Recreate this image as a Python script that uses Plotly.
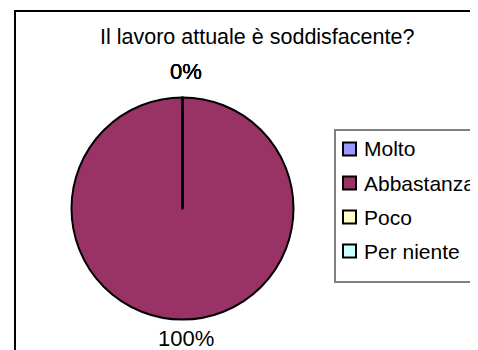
import plotly.graph_objects as go

# ---- data ----
categories = ["Molto", "Abbastanza", "Poco", "Per niente"]
values = [0, 100, 0, 0]
colors = ["#9999FF", "#993366", "#FFFFCC", "#CCFFFF"]
title_text = "Il lavoro attuale è soddisfacente?"

W, H = 478, 350
OFF = 8  # page body margin offset compensation
FONT = "Liberation Sans, Arial, sans-serif"

def px(x):
    return (x - OFF) / W

def py(y):
    return 1 - (y - OFF) / H

# pie geometry (pixels in the page)
cx, cy, r = 182.5, 208.5, 111

fig = go.Figure()
fig.add_trace(go.Pie(
    labels=categories,
    values=values,
    marker=dict(colors=colors, line=dict(color="black", width=2)),
    textinfo="none",
    sort=False,
    direction="clockwise",
    rotation=0,
    showlegend=False,
    hoverinfo="label+percent",
    domain=dict(x=[px(cx - r), px(cx + r)], y=[py(cy + r), py(cy - r)]),
))

shapes = []
annotations = []

# outer chart border
shapes.append(dict(type="rect", xref="paper", yref="paper",
                   x0=px(15), x1=px(W + 20), y0=py(H + 20), y1=py(11),
                   line=dict(color="black", width=2), fillcolor="rgba(0,0,0,0)", layer="above"))

# radial line at 12 o'clock (slice boundary)
shapes.append(dict(type="line", xref="paper", yref="paper",
                   x0=px(cx), x1=px(cx), y0=py(cy), y1=py(cy - r),
                   line=dict(color="black", width=2), layer="above"))

# title
annotations.append(dict(text=title_text, xref="paper", yref="paper",
                        x=px(257), y=py(37), xanchor="center", yanchor="middle",
                        showarrow=False, font=dict(family=FONT, size=21.5, color="black")))

# percentage labels
total = sum(values)
for v in values:
    pct = v / total * 100
    if pct >= 50:
        lx, ly = cx + 3, 338
    else:
        lx, ly = cx + 3, 72
    annotations.append(dict(text=f"{pct:.0f}%", xref="paper", yref="paper",
                            x=px(lx), y=py(ly), xanchor="center", yanchor="middle",
                            showarrow=False, font=dict(family=FONT, size=22, color="black")))

# legend box
shapes.append(dict(type="rect", xref="paper", yref="paper",
                   x0=px(335), x1=px(W + 20), y0=py(282), y1=py(130),
                   line=dict(color="#808080", width=2), fillcolor="white", layer="above"))

for i, (cat, col) in enumerate(zip(categories, colors)):
    yc = 149 + 34 * i
    shapes.append(dict(type="rect", xref="paper", yref="paper",
                       x0=px(343), x1=px(356), y0=py(yc + 6.5), y1=py(yc - 6.5),
                       line=dict(color="black", width=2), fillcolor=col, layer="above"))
    annotations.append(dict(text=cat, xref="paper", yref="paper",
                            x=px(362), y=py(yc), xanchor="left", yanchor="middle",
                            showarrow=False, font=dict(family=FONT, size=21, color="black")))

fig.update_layout(
    width=W, height=H,
    margin=dict(l=0, r=0, t=0, b=0),
    paper_bgcolor="white",
    plot_bgcolor="white",
    shapes=shapes,
    annotations=annotations,
    showlegend=False,
)

fig.write_html("out.html")
